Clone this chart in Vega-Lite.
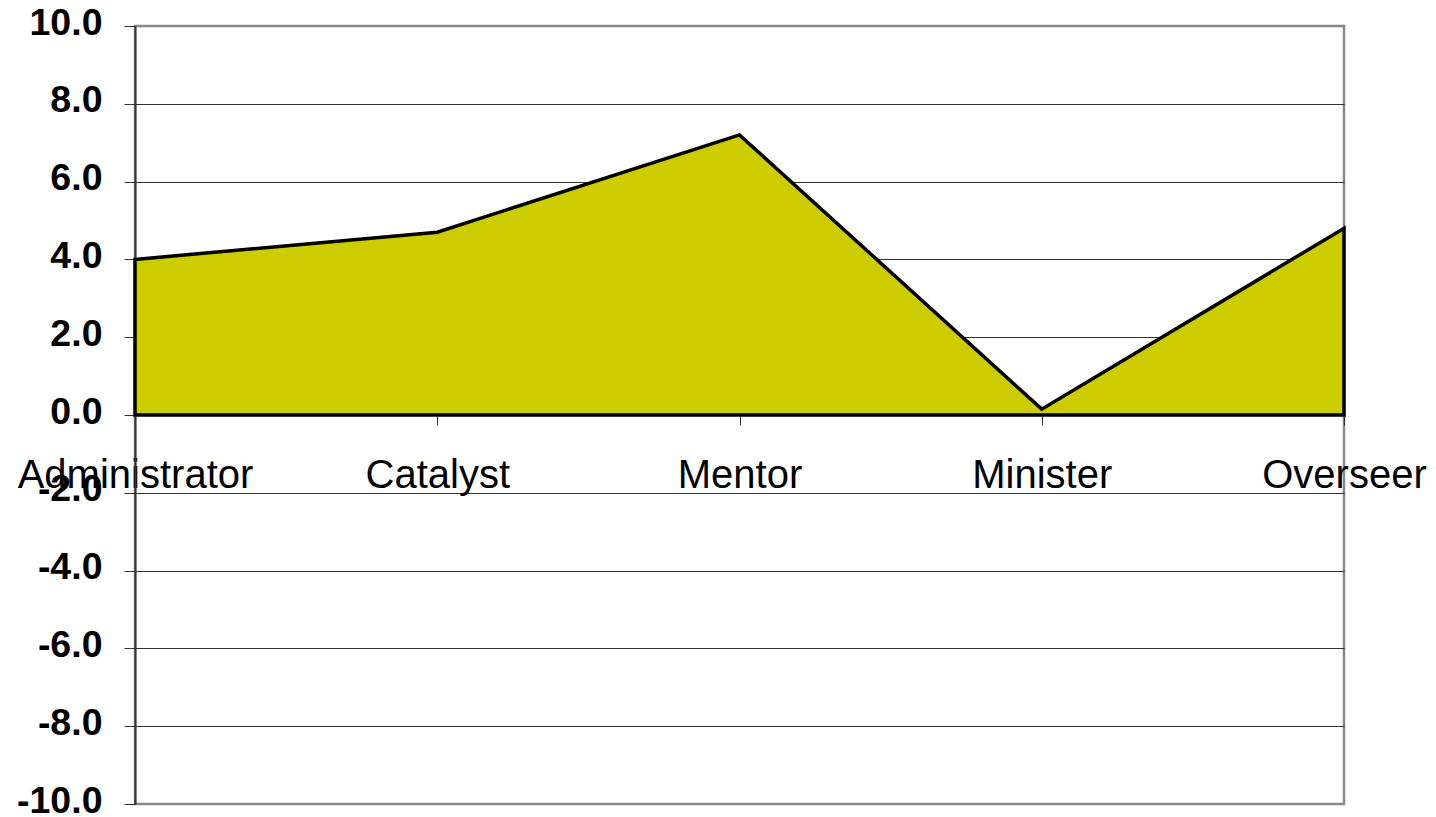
{
  "$schema": "https://vega.github.io/schema/vega-lite/v6.json",
  "width": 1209,
  "height": 778,
  "autosize": {"type": "none"},
  "padding": {"left": 135, "top": 26, "right": 92, "bottom": 13},
  "background": "white",
  "config": {
    "font": "Liberation Sans",
    "view": {"stroke": "#888888", "strokeWidth": 2.5}
  },
  "data": {
    "values": [
      {"role": "Administrator", "score": 4.0},
      {"role": "Catalyst", "score": 4.7},
      {"role": "Mentor", "score": 7.2},
      {"role": "Minister", "score": 0.15},
      {"role": "Overseer", "score": 4.8}
    ]
  },
  "mark": {
    "type": "area",
    "fill": "#CCCC00",
    "fillOpacity": 1,
    "opacity": 1,
    "stroke": "#000000",
    "strokeWidth": 3.5,
    "strokeJoin": "miter"
  },
  "encoding": {
    "x": {
      "field": "role",
      "type": "ordinal",
      "sort": null,
      "scale": {"type": "point", "padding": 0},
      "axis": {
        "title": null,
        "offset": -389,
        "domain": false,
        "grid": false,
        "tickColor": "#333333",
        "tickSize": 10,
        "tickWidth": 1,
        "labelAngle": 0,
        "labelFontSize": 40,
        "labelColor": "#000000",
        "labelBaseline": "alphabetic",
        "labelPadding": 62,
        "labelLimit": 0,
        "labelOverlap": false,
        "labelFlush": false,
        "labelBound": false
      }
    },
    "y": {
      "field": "score",
      "type": "quantitative",
      "scale": {"domain": [-10, 10], "nice": false, "zero": true},
      "axis": {
        "title": null,
        "values": [-10, -8, -6, -4, -2, 0, 2, 4, 6, 8, 10],
        "labelExpr": "replace(format(datum.value, '.1f'), '\u2212', '-')",
        "grid": true,
        "gridColor": {"condition": {"test": "abs(datum.value) == 10", "value": "#888888"}, "value": "#333333"},
        "gridWidth": 1,
        "domainColor": "#333333",
        "domainWidth": 2,
        "tickColor": "#333333",
        "tickSize": 11,
        "labelFontSize": 37.5,
        "labelFontWeight": "bold",
        "labelColor": "#000000",
        "labelPadding": 22,
        "labelBaseline": "middle",
        "labelOffset": -3,
        "labelFlush": false,
        "labelBound": false
      }
    }
  }
}
